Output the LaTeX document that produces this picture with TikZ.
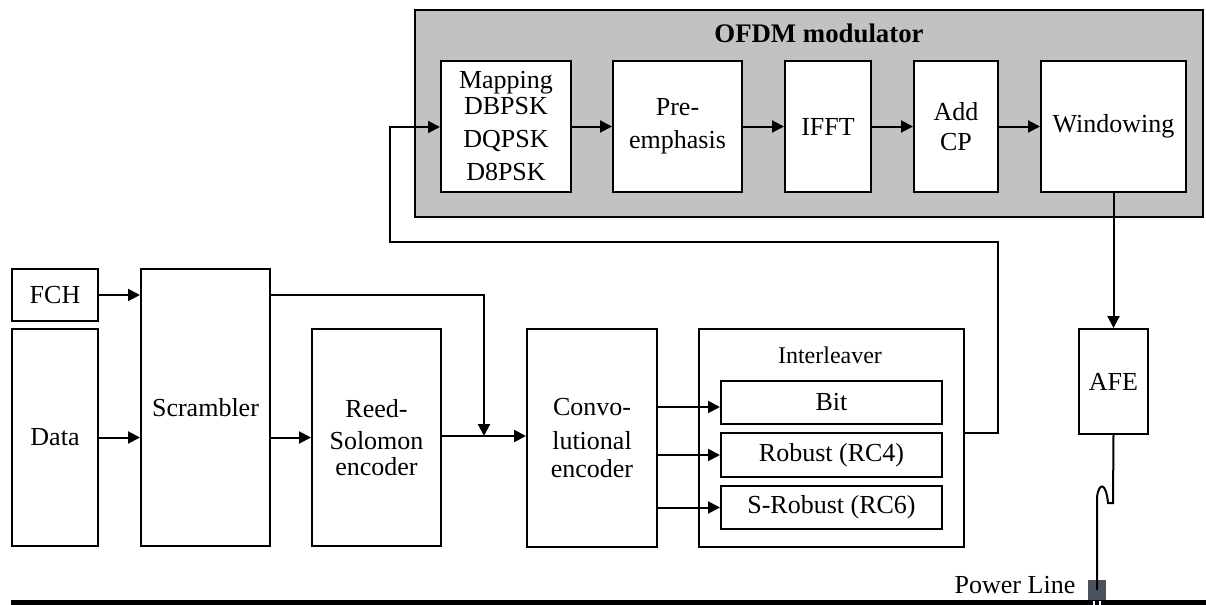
\documentclass[tikz,border=0pt]{standalone}
\usepackage{fontspec}
\setmainfont{Liberation Serif}
\usetikzlibrary{arrows.meta,calc}
\definecolor{ofdmgray}{RGB}{194,194,194}
\definecolor{plsq}{RGB}{75,82,95}
\begin{document}
\begin{tikzpicture}[x=0.5pt,y=-0.5pt,
  box/.style={draw,line width=1pt,fill=white,inner sep=0pt,align=center,font=\fontsize{13}{15.6}\selectfont},
  arr/.style={line width=1pt,-{Triangle[length=6pt,width=6pt]}},
  ln/.style={line width=1pt},
  lbl/.style={inner sep=0pt,align=center}]
\useasboundingbox (0,0) rectangle (1206,605);
% OFDM modulator
\node[draw,line width=1pt,fill=ofdmgray,inner sep=0pt,minimum width=394pt,minimum height=103.5pt] (ofdm) at (809,113.5) {};
\node[lbl,font=\bfseries\fontsize{13.4}{15}\selectfont] (ofdmt) at (819,33) {OFDM modulator};
\node[box,minimum width=65pt,minimum height=65.5pt] (map) at (506,126.5) {Mapping\\[-3pt]DBPSK\\[1.1pt]DQPSK\\[1.1pt]D8PSK};
\node[box,minimum width=64.5pt,minimum height=65.5pt] (pre) at (677.5,126.5) {Pre-\\[0.9pt]emphasis};
\node[box,minimum width=43pt,minimum height=65.5pt] (ifft) at (828,126.5) {IFFT};
\node[box,minimum width=42pt,minimum height=65.5pt] (cp) at (956,126.5) {Add\\[-0.6pt]CP};
\node[box,minimum width=72.5pt,minimum height=65.5pt] (win) at (1113.5,126.5) {Windowing};
% lower chain
\node[box,minimum width=43pt,minimum height=26pt] (fch) at (55,295) {FCH};
\node[box,minimum width=43pt,minimum height=108.5pt] (data) at (55,437.5) {Data};
\node[box,minimum width=64.5pt,minimum height=138.5pt] (scr) at (205.5,407.5) {Scrambler};
\node[box,minimum width=64.5pt,minimum height=108.5pt] (rs) at (376.5,437.5) {Reed-\\[0.5pt]Solomon\\[-3pt]encoder};
\node[box,minimum width=65pt,minimum height=109pt] (conv) at (592,438) {Convo-\\[1.4pt]lutional\\[-1.6pt]encoder};
\node[box,minimum width=132.5pt,minimum height=109pt] (il) at (831.5,438) {};
\node[lbl,font=\fontsize{12}{14}\selectfont] (ilt) at (830,355) {Interleaver};
\node[box,minimum width=110.5pt,minimum height=21.5pt] (bit) at (831.5,402.5) {Bit};
\node[box,minimum width=110.5pt,minimum height=22pt] (rob) at (831.5,455) {Robust (RC4)};
\node[box,minimum width=110.5pt,minimum height=21.5pt] (srob) at (831.5,507.5) {S-Robust (RC6)};
\node[box,minimum width=34.5pt,minimum height=52.5pt] (afe) at (1113.5,381.5) {AFE};
% power line
\fill (11,600) rectangle (1206,605);
\node[fill=plsq,inner sep=0pt,minimum width=9pt,minimum height=10pt] (sq) at (1097,590) {};
\draw[white,line width=0.6pt] (1094,601) -- (1094,605) (1100,601) -- (1100,605);
\node[lbl,font=\fontsize{13}{15}\selectfont] (plt) at (1015,585) {Power Line};
% connectors inside OFDM
\draw[arr] (map.east) -- (pre.west);
\draw[arr] (pre.east) -- (ifft.west);
\draw[arr] (ifft.east) -- (cp.west);
\draw[arr] (cp.east) -- (win.west);
% lower connectors
\draw[arr] (fch.east) -- (fch.east -| scr.west);
\draw[arr] (data.east) -- (data.east -| scr.west);
\draw[arr] (scr.east |- rs.west) -- (rs.west);
\coordinate (j) at (484,436);
\draw[arr] (scr.east |- fch.east) -| (j);
\draw[arr] (rs.east |- j) -- (conv.west |- j);
\draw[arr] (conv.east |- 0,407) -- (bit.west |- 0,407);
\draw[arr] (conv.east |- rob.west) -- (rob.west);
\draw[arr] (conv.east |- srob.west) -- (srob.west);
% feedback to mapping
\draw[arr] (il.east |- 0,433) -- (998,433) -- (998,242) -- (390,242) -- (390,127) -- (map.west |- 0,127);
% windowing to AFE
\draw[arr] (win.south) -- (afe.north);
% AFE to power line
\draw[ln] (afe.south) -- (1113,503) -- (1108,503) .. controls (1106,482) and (1099,482) .. (1097,497) -- (sq.center);
\end{tikzpicture}
\end{document}
